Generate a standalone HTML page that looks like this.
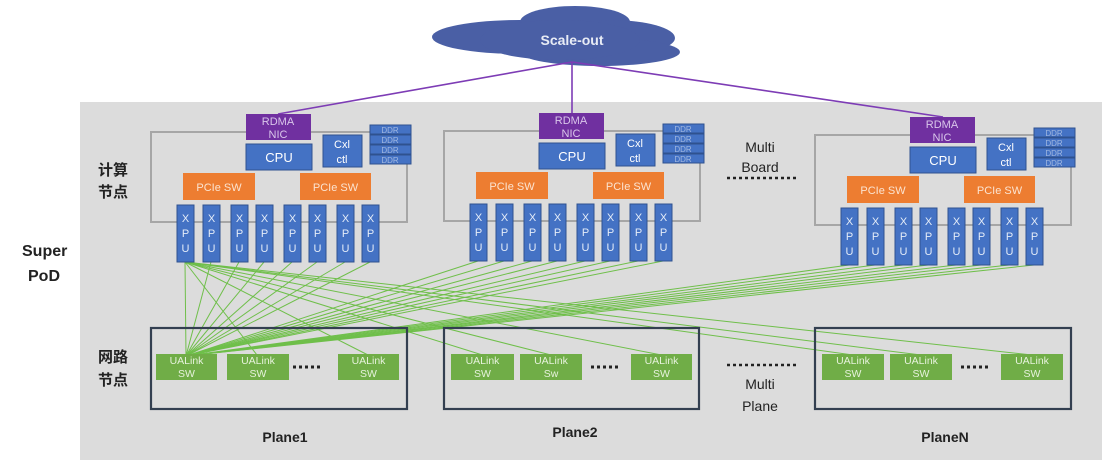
<!DOCTYPE html>
<html><head><meta charset="utf-8"><style>
body{margin:0;background:#fff;}
svg{display:block;font-family:"Liberation Sans","Noto Sans CJK SC",sans-serif;}
</style></head><body>
<svg width="1102" height="460" viewBox="0 0 1102 460" xmlns="http://www.w3.org/2000/svg">
<rect x="80" y="102" width="1022" height="358" fill="#dcdcdc"/>
<!-- cloud -->
<g fill="#4a5fa5">
<ellipse cx="520" cy="37" rx="88" ry="17"/>
<ellipse cx="575" cy="22" rx="55" ry="16"/>
<ellipse cx="610" cy="38" rx="65" ry="18"/>
<ellipse cx="600" cy="52" rx="80" ry="14"/>
<ellipse cx="560" cy="40" rx="80" ry="20"/>
</g>
<text x="572" y="45" fill="#e8ecf5" font-size="14" font-weight="bold" text-anchor="middle">Scale-out</text>
<g stroke="#7d3cb5" stroke-width="1.6">
<line x1="572" y1="62" x2="278" y2="114"/>
<line x1="572" y1="62" x2="572" y2="113"/>
<line x1="572" y1="62" x2="943" y2="117"/>
</g>
<!-- green lines -->
<g stroke="#6fbf4a" stroke-width="1" id="gl"></g>
<g id="boards"></g>
<g id="planes"></g>
<g font-weight="bold" fill="#222">
<text x="22" y="256" font-size="16">Super</text>
<text x="28" y="281" font-size="16">PoD</text>
<text x="98" y="175" font-size="15">计算</text>
<text x="98" y="197" font-size="15">节点</text>
<text x="98" y="362" font-size="15">网路</text>
<text x="98" y="385" font-size="15">节点</text>
<text x="760" y="152" font-size="14" font-weight="normal" text-anchor="middle">Multi</text>
<text x="760" y="172" font-size="14" font-weight="normal" text-anchor="middle">Board</text>
<text x="760" y="389" font-size="14" font-weight="normal" text-anchor="middle">Multi</text>
<text x="760" y="411" font-size="14" font-weight="normal" text-anchor="middle">Plane</text>
<text x="285" y="442" font-size="14" text-anchor="middle">Plane1</text>
<text x="575" y="437" font-size="14" text-anchor="middle">Plane2</text>
<text x="945" y="442" font-size="14" text-anchor="middle">PlaneN</text>
</g>
<line x1="727" y1="178" x2="797" y2="178" stroke="#222" stroke-width="2.5" stroke-dasharray="3,3"/>
<line x1="727" y1="365" x2="797" y2="365" stroke="#222" stroke-width="2.5" stroke-dasharray="3,3"/>
<script>
var NS="http://www.w3.org/2000/svg";
function el(p,t,a,txt){var e=document.createElementNS(NS,t);for(var k in a)e.setAttribute(k,a[k]);if(txt!=null)e.textContent=txt;p.appendChild(e);return e;}
var B=document.getElementById('boards'),P=document.getElementById('planes'),G=document.getElementById('gl');
var boards=[[0,0],[293,-1],[664,3]];
var xpuX=[177,203,231,256,284,309,337,362];
var planes=[{r:[151,407],s:[[156,217],[227,289],[338,399]],d:307},{r:[444,699],s:[[451,514],[520,582],[631,692]],d:605},{r:[815,1071],s:[[822,884],[890,952],[1001,1063]],d:975}];
var swLabels=[["SW","SW","SW"],["SW","Sw","SW"],["SW","SW","SW"]];
// green lines
var t1={x:186,y:356};
boards.forEach(function(b){xpuX.forEach(function(x){el(G,'line',{x1:x+b[0]+8,y1:262+b[1],x2:t1.x,y2:t1.y});});});
[1,2].forEach(function(pi){planes[pi].s.forEach(function(s){el(G,'line',{x1:185,y1:262,x2:(s[0]+s[1])/2,y2:355});});});
el(G,'line',{x1:185,y1:262,x2:planes[0].s[1][0]+30,y2:355});
el(G,'line',{x1:185,y1:262,x2:planes[0].s[2][0]+30,y2:355});
boards.forEach(function(b){
 var dx=b[0],dy=b[1];
 el(B,'rect',{x:151+dx,y:132+dy,width:256,height:90,fill:'none',stroke:'#a6a6a6','stroke-width':2});
 el(B,'rect',{x:246+dx,y:114+dy,width:65,height:26,fill:'#7030a0'});
 el(B,'text',{x:278+dx,y:125+dy,'font-size':11,fill:'#d9c6ea','text-anchor':'middle'},'RDMA');
 el(B,'text',{x:278+dx,y:138+dy,'font-size':11,fill:'#d9c6ea','text-anchor':'middle'},'NIC');
 el(B,'rect',{x:246+dx,y:144+dy,width:66,height:26,fill:'#4472c4',stroke:'#2f528f'});
 el(B,'text',{x:279+dx,y:162+dy,'font-size':13,fill:'#fff','text-anchor':'middle'},'CPU');
 el(B,'rect',{x:323+dx,y:135+dy,width:39,height:32,fill:'#4472c4',stroke:'#2f528f'});
 el(B,'text',{x:342+dx,y:148+dy,'font-size':11,fill:'#fff','text-anchor':'middle'},'Cxl');
 el(B,'text',{x:342+dx,y:163+dy,'font-size':11,fill:'#fff','text-anchor':'middle'},'ctl');
 for(var i=0;i<4;i++){el(B,'rect',{x:370+dx,y:125+dy+i*10,width:41,height:9,fill:'#4472c4',stroke:'#2f528f'});
  el(B,'text',{x:390+dx,y:133+dy+i*10,'font-size':8,fill:'#9fb6e0','text-anchor':'middle'},'DDR');}
 [[183,255],[300,371]].forEach(function(p){el(B,'rect',{x:p[0]+dx,y:173+dy,width:p[1]-p[0],height:27,fill:'#ed7d31'});
  el(B,'text',{x:(p[0]+p[1])/2+dx,y:191+dy,'font-size':11,fill:'#fbe3d0','text-anchor':'middle'},'PCIe SW');});
 xpuX.forEach(function(x){el(B,'rect',{x:x+dx,y:205+dy,width:17,height:57,fill:'#4472c4',stroke:'#2f528f'});
  ['X','P','U'].forEach(function(c,j){el(B,'text',{x:x+dx+8.5,y:222+dy+j*15,'font-size':11,fill:'#e4ecf8','text-anchor':'middle'},c);});});
});
planes.forEach(function(p,pi){
 el(P,'rect',{x:p.r[0],y:328,width:p.r[1]-p.r[0],height:81,fill:'none',stroke:'#333f50','stroke-width':2.2});
 p.s.forEach(function(s,si){el(P,'rect',{x:s[0],y:354,width:s[1]-s[0],height:26,fill:'#70ad47'});
  el(P,'text',{x:(s[0]+s[1])/2,y:364,'font-size':10.5,fill:'#e6f2dc','text-anchor':'middle'},'UALink');
  el(P,'text',{x:(s[0]+s[1])/2,y:377,'font-size':10.5,fill:'#e6f2dc','text-anchor':'middle'},swLabels[pi][si]);});
 el(P,'line',{x1:p.d-14,y1:367,x2:p.d+16,y2:367,stroke:'#222','stroke-width':3,'stroke-dasharray':'3,3'});
});
</script>
</svg>
</body></html>
